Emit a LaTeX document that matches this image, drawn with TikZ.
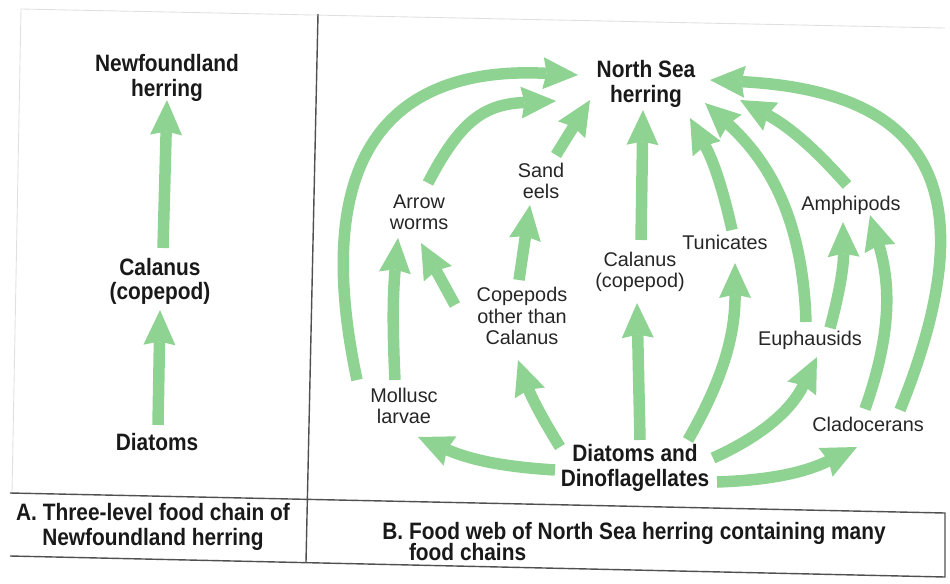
\documentclass[tikz,border=0pt]{standalone}
\usepackage{fontspec}
\setmainfont{Liberation Sans}
\newfontfamily\condfont{Liberation Sans}[FakeStretch=0.88]
\usetikzlibrary{arrows.meta, calc}
\definecolor{webgreen}{RGB}{143,211,146}
\definecolor{rulegray}{RGB}{80,80,80}

\begin{document}
\begin{tikzpicture}[x=0.02cm, y=0.02cm,
      species/.style={font=\fontsize{11.3}{12.2}\selectfont, text=black!85, align=center},
      keysp/.style={font=\condfont\bfseries\fontsize{13.5}{13.8}\selectfont, text=black!90, align=center},
      panelcap/.style={font=\condfont\bfseries\fontsize{13.5}{14}\selectfont, text=black!90, inner sep=0pt},
      food/.style={draw=webgreen, line width=0.23cm,
        -{Stealth[length=0.7cm, width=0.64cm, inset=0.07cm, line width=0pt]}},
      rule/.style={draw=rulegray, line width=0.8pt},
      faint/.style={draw=black!12, line width=0.5pt}]
  \useasboundingbox (0,0) rectangle (950,583);

  \draw[faint] (12,90) -- (21,574) -- (945,555);
  \draw[rule] (318,569) -- (306,21);
  \draw[rule] (10,90) -- (945,70) -- (945,6) -- (10,27);

  \node[keysp] (lherr) at (167,505) {Newfoundland\\herring};
  \node[keysp] (lcal) at (160,302) {Calanus\\(copepod)};
  \node[keysp] (ldia) at (157,141) {Diatoms};

  \node[keysp] (herr) at (646,499) {North Sea\\herring};
  \node[species] (sand) at (541,402) {Sand\\eels};
  \node[species] (arrw) at (419,371) {Arrow\\worms};
  \node[species] (cope) at (522,267) {Copepods\\other than\\Calanus};
  \node[species] (moll) at (404,177) {Mollusc\\larvae};
  \node[species] (clan) at (640,311) {Calanus\\(copepod)};
  \node[species] (tuni) at (725,341) {Tunicates};
  \node[species] (amph) at (851,378) {Amphipods};
  \node[species] (euph) at (810,243) {Euphausids};
  \node[species] (clad) at (868,159) {Cladocerans};
  \node[keysp] (diat) at (635,115) {Diatoms and\\Dinoflagellates};

  \node[panelcap, align=center, anchor=north] (capA) at (153,80)
    {A. Three-level food chain of\\Newfoundland herring};
  \node[panelcap, align=left, anchor=north west,
    font={\condfont\bfseries\fontsize{13.5}{12}\selectfont\lineskiplimit=-10pt\relax}] (capB) at (382,61)
    {B. Food web of North Sea herring containing many\\\hphantom{B.\ }food chains};

  \draw[food] ($(lcal)+(3,33)$) -- ($(lherr)+(0,-22)$);
  \draw[food] ($(ldia)+(1,17)$) -- ($(lcal)+(0,-29)$);

  \draw[food] ($(diat)+(-80,-2)$) to[bend left=10] ($(moll)+(14,-31)$);
  \draw[food] ($(diat)+(-75,21)$) to[bend left=6] ($(cope)+(-4,-44)$);
  \draw[food] ($(diat)+(5,28)$) -- ($(clan)+(-3,-31)$);
  \draw[food] ($(diat)+(53,28)$) to[bend right=15] ($(tuni)+(10,-21)$);
  \draw[food] ($(diat)+(78,10)$) to[bend right=20] ($(euph)+(7,-17)$);
  \draw[food] ($(diat)+(82,-14)$) to[bend right=12] ($(clad)+(-11,-23)$);

  \draw[food] ($(moll)+(-9,26)$) to[bend left=4] ($(arrw)+(-21,-26)$);
  \draw[food] ($(moll)+(-47,26)$) to[out=102, in=177, out distance=4.8cm, in distance=3.6cm] ($(herr)+(-68,9)$);
  \draw[food] ($(cope)+(-67,11)$) -- ($(arrw)+(2,-31)$);
  \draw[food] ($(cope)+(-3,36)$) -- ($(sand)+(-11,-24)$);
  \draw[food] ($(arrw)+(9,29)$) to[bend left=30, looseness=1.2] ($(herr)+(-90,-17)$);
  \draw[food] ($(sand)+(15,26)$) -- ($(herr)+(-56,-16)$);
  \draw[food] ($(clan)+(1,32)$) -- ($(herr)+(-3,-26)$);
  \draw[food] ($(tuni)+(7,12)$) to[bend right=8] ($(herr)+(44,-34)$);
  \draw[food] ($(euph)+(-4,18)$) to[bend right=23] ($(herr)+(59,-19)$);
  \draw[food] ($(euph)+(20,12)$) to[bend right=8] ($(amph)+(-8,-17)$);
  \draw[food] ($(clad)+(-3,15)$) to[bend right=18] ($(amph)+(19,-10)$);
  \draw[food] ($(clad)+(32,14)$) to[out=68, in=-3, out distance=5.2cm, in distance=4cm] ($(herr)+(64,4)$);
  \draw[food] ($(amph)+(-4,20)$) to[bend right=10] ($(herr)+(94,-16)$);
\end{tikzpicture}
\end{document}
